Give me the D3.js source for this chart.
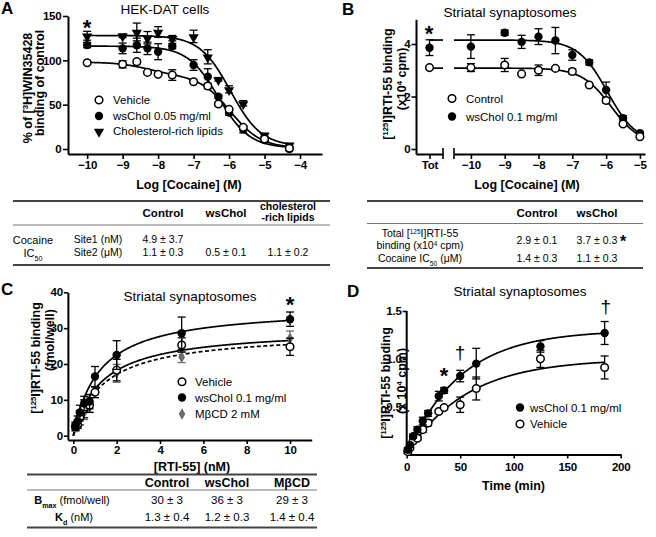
<!DOCTYPE html>
<html><head><meta charset="utf-8">
<script src="https://cdn.jsdelivr.net/npm/d3@7"></script>
<style>
body{margin:0;background:#fff;}
svg{display:block;font-family:"Liberation Sans",Arial,Helvetica,sans-serif;}
</style></head><body>
<script>
// ---------------- Panel A data (HEK-DAT cells) ----------------
const aLogCocaine = [-10,-9,-8.6,-8.3,-8,-7.6,-7,-6.6,-6.3,-6,-5.6,-5,-4.3];
const aVehicle    = [97.3,95.5,98.5,86.4,84.2,83.4,75.9,71.0,50.7,44.7,24.4,11.3,0.8];
const aVehicleErr = [1.5,4,2.5,1,1,6,1.5,3,2,2,2,3,1];
const aWsChol     = [117.2,113.5,117,113.5,109.7,116,94.7,81.5,59,41,22.2,10.1,0];
const aWsCholErr  = [3,6,8,7,9,3,6,9,2,3,4,2,2];
const aLipids     = [127.7,127.7,132,125.5,132,125,127,104,78.6,67.3,51.5,15.8,4.5];
const aLipidsErr  = [5,2,10,7,6,3,7,8,2,4,3,2,2];
const aXTicks = [-10,-9,-8,-7,-6,-5,-4];
const aYTicks = [0,50,100,150];
// fit parameters: top, bottom, fraction site1, logIC50 site1, logIC50 site2
const aVehicleFit = [98, 1, 0.15, -8.31, -5.96];
// top, bottom, logIC50
const aWsCholFit  = [116, 1, -6.3];
const aLipidsFit  = [128, 3, -5.96];
const aLegend = ["Vehicle", "wsChol 0.05 mg/ml", "Cholesterol-rich lipids"];

// ---------------- Panel B data ----------------
const bLogCocaine = [-10,-9,-8.5,-8,-7.5,-7,-6.5,-6,-5.5,-5];
const bControl    = [3.10,3.20,2.86,3.00,3.07,2.95,2.44,1.85,0.95,0.47];
const bControlErr = [0.15,0.25,0.05,0.2,0.05,0.1,0.05,0.1,0.05,0.05];
const bWsChol     = [3.90,4.43,4.08,4.28,4.13,3.58,3.30,2.25,1.17,0.60];
const bWsCholErr  = [0.45,0.1,0.25,0.3,0.5,0.2,0.1,0.3,0.1,0.05];
const bTotCategory = ["Tot"];
const bTotControl = [3.10], bTotControlErr = [0.05];
const bTotWsChol  = [3.86], bTotWsCholErr  = [0.3];
const bXTicks = [-10,-9,-8,-7,-6,-5];
const bYTicks = [0,2,4];
const bControlFit = [3.08, 0.15, -5.85];
const bWsCholFit  = [4.15, 0.2, -5.96];
const bLegend = ["Control", "wsChol 0.1 mg/ml"];

// ---------------- Panel C data ----------------
const cRTI        = [0.1,0.2,0.3,0.5,0.75,1,2,5,10];
const cVehicle    = [2.5,3.0,5.0,7.5,8.5,12.1,18.3,25.3,24.8];
const cVehicleErr = [1,1,2,2.5,2,1.5,3,2,2.4];
const cWsChol     = [2.8,4.0,6.5,9.0,9.5,16.5,22.5,28.6,32.5];
const cWsCholErr  = [1,1.5,2,2,2,2.8,4,4.5,2];
const cMbcd       = [2.2,3.5,5.5,6.5,8.0,12.6,17.4,21.9,27.2];
const cMbcdErr    = [1,1,1.5,2,1.5,1,2.5,1.5,2];
const cXTicks = [0,2,4,6,8,10];
const cYTicks = [0,10,20,30,40];
// Bmax, Kd
const cVehicleFit = [30, 1.3];
const cWsCholFit  = [36, 1.2];
const cMbcdFit    = [29, 1.4];
const cLegend = ["Vehicle", "wsChol 0.1 mg/ml", "M\u03B2CD 2 mM"];

// ---------------- Panel D data ----------------
const dTime       = [1,3,6,10,15,20,30,35,50,65,125,185];
const dWsChol     = [0.05,0.10,0.19,0.26,0.35,0.43,0.61,0.67,0.82,0.95,1.13,1.27];
const dWsCholErr  = [0.02,0.02,0.02,0.03,0.04,0.03,0.05,0.03,0.06,0.16,0.06,0.12];
const dVehicle    = [0.03,0.07,0.14,0.17,0.26,0.33,0.45,0.49,0.52,0.69,1.00,0.91];
const dVehicleErr = [0.02,0.02,0.02,0.02,0.03,0.03,0.02,0.02,0.08,0.12,0.09,0.12];
const dXTicks = [0,50,100,150,200];
const dYTicks = [0.5,1.0,1.5];
// Ymax, k (per min)
const dWsCholFit  = [1.3, 0.02];
const dVehicleFit = [1.0, 0.018];
const dLegend = ["wsChol 0.1 mg/ml", "Vehicle"];

// ---------------- Tables ----------------
const tableAHeaders = ["Control", "wsChol"];
const tableASite1 = ["4.9 \u00B1 3.7"];
const tableASite2 = ["1.1 \u00B1 0.3", "0.5 \u00B1 0.1", "1.1 \u00B1 0.2"];
const tableBHeaders = ["Control", "wsChol"];
const tableBTotal = ["2.9 \u00B1 0.1", "3.7 \u00B1 0.3"];
const tableBIC50  = ["1.4 \u00B1 0.3", "1.1 \u00B1 0.3"];
const tableCHeaders = ["Control", "wsChol", "M\u03B2CD"];
const tableCBmax = ["30 \u00B1 3", "36 \u00B1 3", "29 \u00B1 3"];
const tableCKd   = ["1.3 \u00B1 0.4", "1.2 \u00B1 0.3", "1.4 \u00B1 0.4"];

// =====================================================
const svg = d3.select("body").append("svg").attr("width",656).attr("height",537);

function rich(parent, x, y, parts, o = {}) {
  const size = o.size || 11;
  const t = parent.append("text").attr("x", x).attr("y", y)
    .attr("text-anchor", o.anchor || "middle").attr("font-size", size)
    .attr("font-weight", o.weight || "normal").attr("fill", "#000");
  if (o.ls) t.attr("letter-spacing", o.ls);
  if (o.rotate) t.attr("transform", `rotate(-90,${x},${y})`);
  parts.forEach(p => {
    if (typeof p === "string") { t.append("tspan").text(p); return; }
    const s = t.append("tspan").text(p.t);
    if (p.sup) s.attr("baseline-shift", "super").attr("font-size", p.fs || size * 0.62);
    if (p.sub) s.attr("baseline-shift", "sub").attr("font-size", p.fs || size * 0.65);
    if (p.w) s.attr("font-weight", p.w);
  });
  return t;
}

function styleAxis(g) {
  g.attr("font-family", null).attr("font-size", null);
  g.select(".domain").attr("stroke-width", 2).attr("stroke", "#000");
  g.selectAll(".tick line").attr("stroke-width", 1.6).attr("stroke", "#000");
  g.selectAll(".tick text").attr("font-size", 11.5).attr("font-weight", "bold")
    .attr("letter-spacing", -0.2).attr("fill", "#000");
}

function marker(g, type, x, y) {
  if (type === "open") {
    g.append("circle").attr("cx", x).attr("cy", y).attr("r", 3.8)
      .attr("fill", "#fff").attr("stroke", "#000").attr("stroke-width", 1.5);
  } else if (type === "filled") {
    g.append("circle").attr("cx", x).attr("cy", y).attr("r", 4.2).attr("fill", "#000");
  } else if (type === "tri") {
    g.append("path").attr("d", d3.symbol(d3.symbolTriangle, 46)())
      .attr("transform", `translate(${x},${y + 0.8}) rotate(180)`).attr("fill", "#000");
  } else if (type === "diamond") {
    g.append("path").attr("d", d3.symbol(d3.symbolDiamond, 38)())
      .attr("transform", `translate(${x},${y})`).attr("fill", "#6b6b6b");
  }
}

function series(g, xs, ys, es, sx, sy, type, xpos) {
  const color = type === "diamond" ? "#6b6b6b" : "#000";
  xs.forEach((xv, i) => {
    const x = xpos ? xpos(xv) : sx(xv);
    const y1 = sy(ys[i] - es[i]), y2 = sy(ys[i] + es[i]);
    g.append("line").attr("x1", x).attr("x2", x).attr("y1", y1).attr("y2", y2)
      .attr("stroke", color).attr("stroke-width", 1.3);
    [y1, y2].forEach(yy => g.append("line").attr("x1", x - 4).attr("x2", x + 4)
      .attr("y1", yy).attr("y2", yy).attr("stroke", color).attr("stroke-width", 1.3));
  });
  xs.forEach((xv, i) => marker(g, type, xpos ? xpos(xv) : sx(xv), sy(ys[i])));
}

function curve(g, f, x0, x1, sx, sy, dash) {
  const pts = d3.range(0, 301).map(i => x0 + (x1 - x0) * i / 300);
  g.append("path").datum(pts)
    .attr("d", d3.line().x(v => sx(v)).y(v => sy(f(v))))
    .attr("fill", "none").attr("stroke", "#000").attr("stroke-width", 1.7)
    .attr("stroke-dasharray", dash || null);
}

function star(g, cx, cy, size = 22) {
  g.append("text").attr("x", cx).attr("y", cy + size * 0.56).attr("text-anchor", "middle")
    .attr("font-size", size).attr("font-weight", "bold").text("*");
}
function dagger(g, cx, cy, size = 19) {
  g.append("text").attr("x", cx).attr("y", cy + size * 0.29).attr("text-anchor", "middle")
    .attr("font-size", size).text("\u2020");
}
function panelLetter(g, x, y, s) {
  g.append("text").attr("x", x).attr("y", y).attr("font-size", 17).attr("font-weight", "bold").text(s);
}
function title(g, x, y, s) {
  g.append("text").attr("x", x).attr("y", y).attr("text-anchor", "middle").attr("font-size", 13.5).text(s);
}
function legend(g, x, tx, ys, types, labels) {
  ys.forEach((y, i) => {
    marker(g, types[i], x, y);
    g.append("text").attr("x", tx).attr("y", y + 4.2).attr("font-size", 11.5).text(labels[i]);
  });
}
function hline(g, x1, x2, y, w, c) {
  g.append("line").attr("x1", x1).attr("x2", x2).attr("y1", y).attr("y2", y)
    .attr("stroke", c).attr("stroke-width", w);
}

// ---------- model functions ----------
const oneSite = p => x => p[1] + (p[0] - p[1]) / (1 + Math.pow(10, x - p[2]));
const twoSite = p => x => p[1] + (p[0] - p[1]) * (p[2] / (1 + Math.pow(10, x - p[3])) + (1 - p[2]) / (1 + Math.pow(10, x - p[4])));
const satBind = p => x => p[0] * x / (p[1] + x);
const assoc   = p => t => p[0] * (1 - Math.exp(-p[1] * t));

// =============== PANEL A ===============
{
  const g = svg.append("g");
  const x = d3.scaleLinear().domain([-10.54, -3.38]).range([68, 322]);
  const y = d3.scaleLinear().domain([-5.64, 150]).range([154, 16]);
  const ax = g.append("g").attr("transform", "translate(0,154)")
    .call(d3.axisBottom(x).tickValues(aXTicks).tickSize(5).tickSizeOuter(0).tickPadding(2).tickFormat(d3.format("d")));
  styleAxis(ax);
  const ay = g.append("g").attr("transform", "translate(68,0)")
    .call(d3.axisLeft(y).tickValues(aYTicks).tickSize(5).tickSizeOuter(0).tickPadding(1.5));
  styleAxis(ay);
  curve(g, twoSite(aVehicleFit), -10, -4.3, x, y);
  curve(g, oneSite(aWsCholFit), -10, -4.3, x, y);
  curve(g, oneSite(aLipidsFit), -10, -4.3, x, y);
  series(g, aLogCocaine, aLipids, aLipidsErr, x, y, "tri");
  series(g, aLogCocaine, aWsChol, aWsCholErr, x, y, "filled");
  series(g, aLogCocaine, aVehicle, aVehicleErr, x, y, "open");
  legend(g, 99, 113, [100, 116, 131], ["open", "filled", "tri"], aLegend);
  panelLetter(g, 1, 14, "A");
  title(g, 165, 14, "HEK-DAT cells");
  star(g, 87, 23);
  rich(g, 31.5, 88, ["% of [", {t: "3", sup: true}, "H]WIN35428"], {rotate: true, size: 12.5, weight: "bold"});
  rich(g, 44, 83, ["binding of control"], {rotate: true, size: 12.5, weight: "bold"});
  rich(g, 189, 188.5, ["Log [Cocaine] (M)"], {size: 12.5, weight: "bold"});
  // table A
  hline(g, 13, 330, 201, 2.2, "#444");
  hline(g, 13, 330, 225, 1, "#777");
  hline(g, 13, 330, 265, 2.2, "#444");
  const cols = [163, 226, 288];
  tableAHeaders.forEach((h, i) => rich(g, cols[i], 217, [h], {size: 11.5, weight: "bold"}));
  rich(g, cols[2], 209.5, ["cholesterol"], {size: 10.5, weight: "bold"});
  rich(g, cols[2], 221, ["-rich lipids"], {size: 10.5, weight: "bold"});
  rich(g, 33, 244, ["Cocaine"], {size: 11});
  rich(g, 33, 257, ["IC", {t: "50", sub: true}], {size: 11});
  rich(g, 98, 243, ["Site1 (nM)"], {size: 10.5});
  rich(g, 98, 256, ["Site2 (\u03BCM)"], {size: 10.5});
  tableASite1.forEach((v, i) => rich(g, cols[i], 243, [v], {size: 10.5}));
  tableASite2.forEach((v, i) => rich(g, cols[i], 256, [v], {size: 10.5}));
}

// =============== PANEL B ===============
{
  const g = svg.append("g");
  const x = d3.scaleLinear().domain([-10.5, -4.85]).range([454, 645]);
  const xt = d3.scalePoint().domain(bTotCategory).range([416, 443]).padding(0.5);
  const y = d3.scaleLinear().domain([-0.19, 4.94]).range([154, 19.3]);
  const ax = g.append("g").attr("transform", "translate(0,154)")
    .call(d3.axisBottom(x).tickValues(bXTicks).tickSize(5).tickSizeOuter(0).tickPadding(2).tickFormat(d3.format("d")));
  styleAxis(ax);
  const axt = g.append("g").attr("transform", "translate(0,154)")
    .call(d3.axisBottom(xt).tickSize(5).tickSizeOuter(0).tickPadding(2));
  styleAxis(axt);
  [443, 454].forEach(bx => g.append("line").attr("x1", bx).attr("x2", bx).attr("y1", 148).attr("y2", 159)
    .attr("stroke", "#000").attr("stroke-width", 1.6));
  const ay = g.append("g").attr("transform", "translate(416,0)")
    .call(d3.axisLeft(y).tickValues(bYTicks).tickSize(4.5).tickSizeOuter(0).tickPadding(1).tickFormat(d3.format("d")));
  styleAxis(ay);
  // plateau lines across the Tot segment
  const totX = xt(bTotCategory[0]);
  hline(g, totX, 443, y(bControlFit[0]), 1.7, "#000");
  hline(g, totX, 443, y(bWsCholFit[0]), 1.7, "#000");
  curve(g, oneSite(bControlFit), -10.5, -5, x, y);
  curve(g, oneSite(bWsCholFit), -10.5, -5, x, y);
  series(g, bTotCategory, bTotWsChol, bTotWsCholErr, x, y, "filled", xt);
  series(g, bTotCategory, bTotControl, bTotControlErr, x, y, "open", xt);
  series(g, bLogCocaine, bWsChol, bWsCholErr, x, y, "filled");
  series(g, bLogCocaine, bControl, bControlErr, x, y, "open");
  legend(g, 452, 466, [98.5, 116.5], ["open", "filled"], bLegend);
  panelLetter(g, 342, 15, "B");
  title(g, 510, 16.5, "Striatal synaptosomes");
  star(g, 429, 29);
  rich(g, 391.8, 84, ["[", {t: "125", sup: true}, "I]RTI-55 binding"], {rotate: true, size: 12.5, weight: "bold"});
  rich(g, 406, 79, ["(x10", {t: "4", sup: true}, " cpm)"], {rotate: true, size: 12.5, weight: "bold"});
  rich(g, 527, 188.5, ["Log [Cocaine] (M)"], {size: 12.5, weight: "bold"});
  // table B
  hline(g, 367, 643, 201, 2.2, "#444");
  hline(g, 367, 643, 223.5, 1, "#777");
  hline(g, 367, 643, 268, 2.2, "#444");
  const cols = [537, 597];
  tableBHeaders.forEach((h, i) => rich(g, cols[i], 216.5, [h], {size: 11.5, weight: "bold"}));
  rich(g, 420, 236.5, ["Total [", {t: "125", sup: true}, "I]RTI-55"], {size: 10.5});
  rich(g, 420, 249, ["binding (x10", {t: "4", sup: true}, " cpm)"], {size: 10.5});
  rich(g, 420, 262, ["Cocaine IC", {t: "50", sub: true}, " (\u03BCM)"], {size: 10.5});
  tableBTotal.forEach((v, i) => rich(g, cols[i], 244, [v], {size: 10.5}));
  tableBIC50.forEach((v, i) => rich(g, cols[i], 262, [v], {size: 10.5}));
  star(g, 623, 238, 16);
}

// =============== PANEL C ===============
{
  const g = svg.append("g");
  const x = d3.scaleLinear().domain([-0.25, 11]).range([67.9, 311.7]);
  const y = d3.scaleLinear().domain([-1.2, 40]).range([440, 292.3]);
  const ax = g.append("g").attr("transform", "translate(0,440)")
    .call(d3.axisBottom(x).tickValues(cXTicks).tickSize(4).tickSizeOuter(0).tickPadding(1.5));
  styleAxis(ax);
  const ay = g.append("g").attr("transform", "translate(67.9,0)")
    .call(d3.axisLeft(y).tickValues(cYTicks).tickSize(4).tickSizeOuter(0).tickPadding(1));
  styleAxis(ay);
  curve(g, satBind(cWsCholFit), 0, 10, x, y);
  curve(g, satBind(cVehicleFit), 0, 10, x, y);
  curve(g, satBind(cMbcdFit), 0, 10, x, y, "4,2.5");
  series(g, cRTI, cMbcd, cMbcdErr, x, y, "diamond");
  series(g, cRTI, cVehicle, cVehicleErr, x, y, "open");
  series(g, cRTI, cWsChol, cWsCholErr, x, y, "filled");
  legend(g, 182, 195, [381.7, 397.5, 414], ["open", "filled", "diamond"], cLegend);
  panelLetter(g, 1, 295, "C");
  title(g, 190, 300.5, "Striatal synaptosomes");
  star(g, 290, 300);
  rich(g, 39.5, 358, ["[", {t: "125", sup: true}, "I]RTI-55 binding"], {rotate: true, size: 12.5, weight: "bold"});
  rich(g, 54, 340, ["(fmol/well)"], {rotate: true, size: 12.5, weight: "bold"});
  rich(g, 192, 470.5, ["[RTI-55] (nM)"], {size: 12.5, weight: "bold"});
  // table C
  hline(g, 27, 317, 474.5, 2.2, "#444");
  hline(g, 27, 317, 490, 1, "#777");
  hline(g, 27, 317, 527.5, 2.2, "#444");
  const cols = [167, 227, 292];
  tableCHeaders.forEach((h, i) => rich(g, cols[i], 486.5, [h], {size: 12.5, weight: "bold"}));
  rich(g, 72, 504, [{t: "B", w: "bold"}, {t: "max", sub: true, w: "bold"}, " (fmol/well)"], {size: 11});
  rich(g, 74, 521, [{t: "K", w: "bold"}, {t: "d", sub: true, w: "bold"}, " (nM)"], {size: 11});
  tableCBmax.forEach((v, i) => rich(g, cols[i], 504, [v], {size: 11.5}));
  tableCKd.forEach((v, i) => rich(g, cols[i], 521, [v], {size: 11.5}));
}

// =============== PANEL D ===============
{
  const g = svg.append("g");
  const x = d3.scaleLinear().domain([0, 200]).range([406.7, 620.7]);
  const y = d3.scaleLinear().domain([0, 1.5]).range([454.5, 311]);
  const ax = g.append("g").attr("transform", "translate(0,454.5)")
    .call(d3.axisBottom(x).tickValues(dXTicks).tickSize(4).tickSizeOuter(0).tickPadding(4));
  styleAxis(ax);
  const ay = g.append("g").attr("transform", "translate(406.7,0)")
    .call(d3.axisLeft(y).tickValues(dYTicks).tickSize(4).tickSizeOuter(0).tickPadding(1).tickFormat(d3.format(".1f")));
  styleAxis(ay);
  ay.select(".domain").attr("d", `M-0,${y(1.5)}V${y(0)}`);
  curve(g, assoc(dWsCholFit), 0, 185, x, y);
  curve(g, assoc(dVehicleFit), 0, 185, x, y);
  series(g, dTime, dVehicle, dVehicleErr, x, y, "open");
  series(g, dTime, dWsChol, dWsCholErr, x, y, "filled");
  legend(g, 520, 530, [407.5, 424], ["filled", "open"], dLegend);
  panelLetter(g, 347, 297, "D");
  title(g, 520, 296, "Striatal synaptosomes");
  star(g, 444, 370.5);
  dagger(g, 460, 353);
  dagger(g, 605.7, 307.5);
  rich(g, 389.5, 383, ["[", {t: "125", sup: true}, "I]RTI-55 binding"], {rotate: true, size: 12.5, weight: "bold"});
  rich(g, 405.5, 381, ["(x 10", {t: "4", sup: true}, " cpm)"], {rotate: true, size: 12.5, weight: "bold"});
  rich(g, 513.5, 490, ["Time (min)"], {size: 12.5, weight: "bold"});
}
</script>
</body></html>
